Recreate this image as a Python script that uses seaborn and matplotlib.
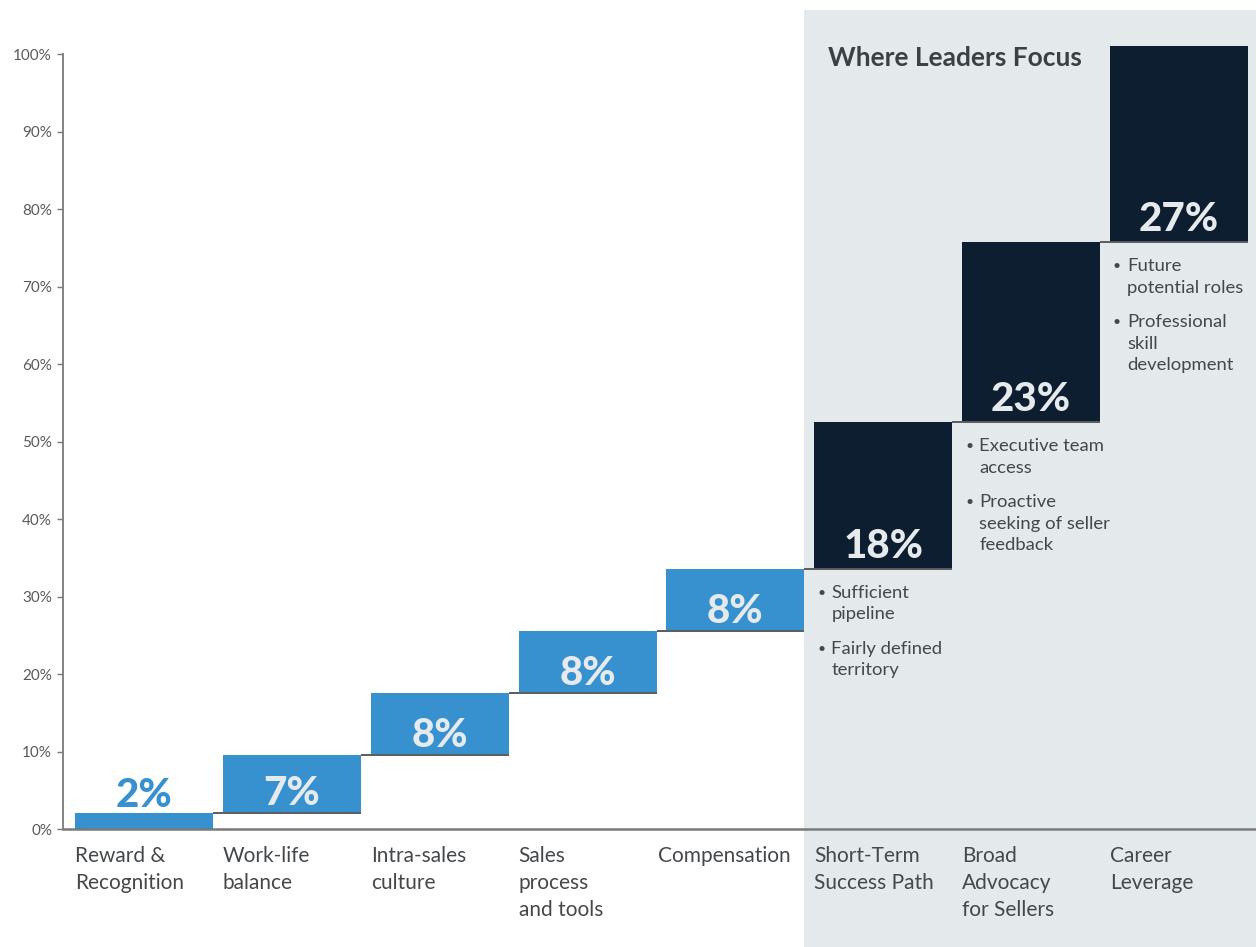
import matplotlib
matplotlib.use("Agg")
import matplotlib.pyplot as plt
import matplotlib.transforms as mtransforms
from matplotlib.patches import Rectangle
import seaborn as sns
import numpy as np
import pandas as pd

# ---------------- data ----------------
categories = ["Reward &\nRecognition", "Work-life\nbalance", "Intra-sales\nculture",
              "Sales\nprocess\nand tools", "Compensation", "Short-Term\nSuccess Path",
              "Broad\nAdvocacy\nfor Sellers", "Career\nLeverage"]
values = [2.06, 7.5, 8.0, 8.0, 8.0, 18.95, 23.2, 25.3]
value_labels = ["2%", "7%", "8%", "8%", "8%", "18%", "23%", "27%"]
leader_focus = [False, False, False, False, False, True, True, True]
bullets = {
    5: ["Sufficient\npipeline", "Fairly defined\nterritory"],
    6: ["Executive team\naccess", "Proactive\nseeking of seller\nfeedback"],
    7: ["Future\npotential roles", "Professional\nskill\ndevelopment"],
}
yticks = [0, 10, 20, 30, 40, 50, 60, 70, 80, 90, 100]
ytick_labels = [f"{t}%" for t in yticks]
panel_title = "Where Leaders Focus"

# ---------------- style ----------------
BLUE = "#3791cf"
DARK = "#0c1e2f"
PANEL = "#e4e9ec"
LABEL_LIGHT = "#e6eaed"
AXIS = "#7a7a7a"
TEXT = "#45484b"

sns.set_theme(style="white")
plt.rcParams["font.family"] = ["Lato", "DejaVu Sans"]

W, H = 1256, 947
fig = plt.figure(figsize=(W / 100, H / 100), dpi=100)
fig.patch.set_facecolor("white")
ax = fig.add_axes([63 / W, 118 / H, 1 - 63 / W, 829 / H])
ax.set_facecolor("none")

bottoms = np.cumsum(values) - np.array(values)
bar_w = 0.933

df = pd.DataFrame({"category": categories, "value": values})
sns.barplot(data=df, x="category", y="value", order=categories, bottom=bottoms,
            width=bar_w, color=BLUE, saturation=1, linewidth=0, errorbar=None,
            ax=ax, zorder=2)
for patch, dark in zip(ax.patches, leader_focus):
    patch.set_facecolor(DARK if dark else BLUE)

px_per_unit = 7.75
ax.set_ylim(0, 829 / px_per_unit)
ax.set_xlim(-0.548, 7.521)

# connector lines at each bar's base
for i in range(1, len(values)):
    ax.hlines(bottoms[i], i - 1 + bar_w / 2, i + bar_w / 2, color="#5a5d60",
              lw=1.4, zorder=3)

# grey "leaders" panel (data x, figure y)
blend = mtransforms.blended_transform_factory(ax.transData, fig.transFigure)
panel = Rectangle((4 + bar_w / 2, 0), 5, (H - 10) / H, transform=blend,
                  facecolor=PANEL, edgecolor="none", zorder=-1)
fig.add_artist(panel)


def put_lines(x, y, text, dx, dy0, spacing, **kw):
    """Place each line of text separately, baselines spaced in pixels."""
    for j, line in enumerate(text.split("\n")):
        tr = mtransforms.offset_copy(ax.transData, fig=fig, x=dx,
                                     y=dy0 - j * spacing, units="dots")
        ax.text(x, y, line, transform=tr, va="baseline", **kw)


# value labels
for i, (v, b, lab) in enumerate(zip(values, bottoms, value_labels)):
    if v < 4:
        tr = mtransforms.offset_copy(ax.transData, fig=fig, x=0, y=6, units="dots")
        ax.text(i, b + v, lab, transform=tr, ha="center", va="baseline",
                fontsize=29, fontweight="black", color=BLUE, zorder=4)
    else:
        off = 11 if leader_focus[i] else 8
        tr = mtransforms.offset_copy(ax.transData, fig=fig, x=0, y=off, units="dots")
        ax.text(i, b, lab, transform=tr, ha="center", va="baseline",
                fontsize=29, fontweight="black", color=LABEL_LIGHT, zorder=4)

# bullet lists under leader bars
for i, items in bullets.items():
    left = i - bar_w / 2
    dy = -29
    for item in items:
        tr = mtransforms.offset_copy(ax.transData, fig=fig, x=3, y=dy + 1, units="dots")
        ax.text(left, bottoms[i], "\u2022", transform=tr, ha="left", va="baseline",
                fontsize=10, color=TEXT, zorder=4)
        put_lines(left, bottoms[i], item, 17, dy, 21.5, ha="left", fontsize=13.3,
                  color=TEXT, zorder=4)
        dy -= len(item.split("\n")) * 21.5 + 13

# category labels
nudge = {"Compensation": -8}
for i, cat in enumerate(categories):
    left = i - bar_w / 2
    put_lines(left, 0, cat, nudge.get(cat, 0), -33, 27, ha="left", fontsize=15,
              color=TEXT, zorder=4)

# axes styling
ax.set_xticks([])
ax.set_xlabel("")
ax.set_ylabel("")
ax.set_yticks(yticks)
ax.set_yticklabels(ytick_labels)
ax.tick_params(axis="y", left=True, length=4.3, width=1, color=AXIS, pad=3.6,
               labelsize=11, labelcolor="#5a5a5a")
for s in ["top", "right"]:
    ax.spines[s].set_visible(False)
ax.spines["left"].set_bounds(0, 100)
ax.spines["left"].set_color(AXIS)
ax.spines["bottom"].set_color(AXIS)
ax.spines["left"].set_linewidth(1.3)
ax.spines["bottom"].set_linewidth(1.8)
ax.spines["left"].set_zorder(5)
ax.spines["bottom"].set_zorder(5)

fig.text(828 / W, 1 - 66 / H, panel_title, ha="left", va="baseline", fontsize=19,
         fontweight="bold", color="#3b4045")

fig.savefig("out.png", dpi=100, facecolor="white")
